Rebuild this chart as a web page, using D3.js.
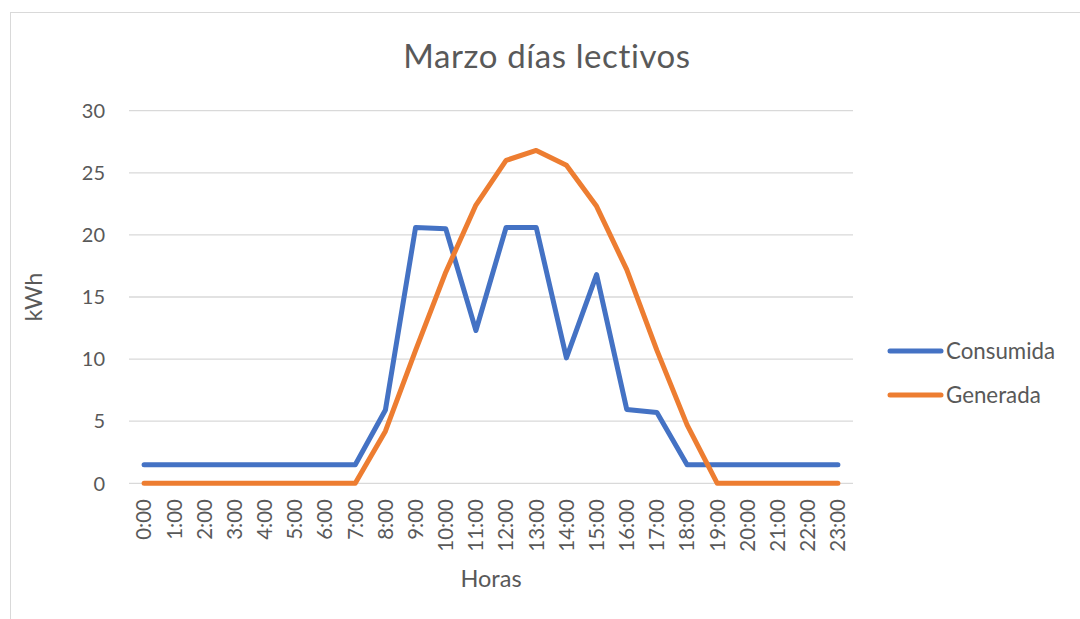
<!DOCTYPE html>
<html><head><meta charset="utf-8">
<script src="https://cdn.jsdelivr.net/npm/d3@7"></script>
<style>body{margin:0;background:#fff}svg{display:block}text{font-family:Lato,"Open Sans",sans-serif;fill:#595959}</style>
</head><body>
<svg id="c" width="1080" height="619"></svg>
<script>
const categories = ["0:00","1:00","2:00","3:00","4:00","5:00","6:00","7:00","8:00","9:00","10:00","11:00","12:00","13:00","14:00","15:00","16:00","17:00","18:00","19:00","20:00","21:00","22:00","23:00"];
const consumida = [1.5,1.5,1.5,1.5,1.5,1.5,1.5,1.5,5.9,20.6,20.5,12.3,20.6,20.6,10.1,16.8,5.95,5.7,1.5,1.5,1.5,1.5,1.5,1.5];
const generada = [0,0,0,0,0,0,0,0,4.2,10.7,17.0,22.4,26.0,26.8,25.6,22.3,17.2,10.7,4.7,0,0,0,0,0];
const yTicks = [0,5,10,15,20,25,30];
const seriesNames = ["Consumida","Generada"];
const colors = ["#4472C4","#ED7D31"];

const svg = d3.select("#c");
svg.append("rect").attr("x",10.5).attr("y",12.5).attr("width",1100).attr("height",700)
  .attr("fill","none").attr("stroke","#D9D9D9");

const L=129, R=853, T=110.7, B=483.3;
const x = d3.scaleBand().domain(categories).range([L,R]);
const y = d3.scaleLinear().domain([0,30]).range([B,T]);

svg.append("g").selectAll("line").data(yTicks).join("line")
  .attr("x1",L).attr("x2",R).attr("y1",d=>y(d)).attr("y2",d=>y(d))
  .attr("stroke","#D9D9D9").attr("stroke-width",1.3);

svg.append("g").selectAll("text").data(yTicks).join("text")
  .attr("x",105).attr("y",d=>y(d)).attr("dy","0.36em").attr("text-anchor","end")
  .attr("font-size",20).text(d=>d);

svg.append("g").selectAll("text").data(categories).join("text")
  .attr("transform",d=>`translate(${x(d)+x.bandwidth()/2},499) rotate(-90)`)
  .attr("text-anchor","end").attr("dy","0.36em").attr("font-size",20.5).text(d=>d);

const line = d3.line().x((d,i)=>x(categories[i])+x.bandwidth()/2).y(d=>y(d));
[consumida,generada].forEach((s,k)=>{
  svg.append("path").datum(s).attr("d",line).attr("fill","none")
    .attr("stroke",colors[k]).attr("stroke-width",5).attr("stroke-linejoin","round").attr("stroke-linecap","round");
});

svg.append("text").attr("x",547).attr("y",68).attr("text-anchor","middle").attr("font-size",33).attr("letter-spacing",0.6).text("Marzo días lectivos");
svg.append("text").attr("x",491).attr("y",587).attr("text-anchor","middle").attr("font-size",23.5).text("Horas");
svg.append("text").attr("transform","translate(42,297) rotate(-90)").attr("text-anchor","middle").attr("font-size",23.5).text("kWh");

const lg = svg.append("g").selectAll("g").data(seriesNames).join("g")
  .attr("transform",(d,i)=>`translate(0,${351+i*44})`);
lg.append("line").attr("x1",890).attr("x2",941).attr("stroke",(d,i)=>colors[i]).attr("stroke-width",5).attr("stroke-linecap","round");
lg.append("text").attr("x",946).attr("dy","0.36em").attr("font-size",22.3).text(d=>d);
</script>
</body></html>
